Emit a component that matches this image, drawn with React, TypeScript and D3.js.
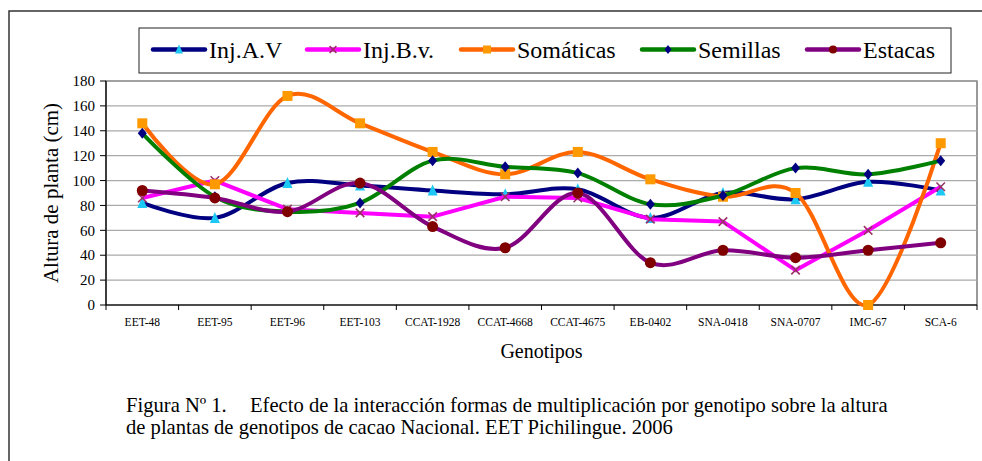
import React from "react";
import * as d3 from "d3";

const categories = ["EET-48", "EET-95", "EET-96", "EET-103", "CCAT-1928", "CCAT-4668", "CCAT-4675", "EB-0402", "SNA-0418", "SNA-0707", "IMC-67", "SCA-6"];
const injAV = [82, 70, 98, 96, 92, 89, 93, 70, 90, 85, 99, 92];
const injBv = [86, 100, 77, 74, 71, 87, 86, 69, 67, 28, 60, 95];
const somaticas = [146, 97, 168, 146, 123, 105, 123, 101, 87, 90, 0, 130];
const semillas = [138, 87, 75, 82, 116, 111, 106, 81, 88, 110, 105, 116];
const estacas = [92, 86, 75, 98, 63, 46, 90, 34, 44, 38, 44, 50];
const yTicks = [0, 20, 40, 60, 80, 100, 120, 140, 160, 180];
const seriesNames = ["Inj.A.V", "Inj.B.v.", "Somáticas", "Semillas", "Estacas"];

type Marker = "triangle" | "x" | "square" | "diamond" | "circle";
const seriesDefs: { name: string; values: number[]; line: string; marker: Marker; mColor: string; smooth: boolean }[] = [
  { name: seriesNames[0], values: injAV, line: "#000080", marker: "triangle", mColor: "#1ec8f5", smooth: true },
  { name: seriesNames[1], values: injBv, line: "#ff00ff", marker: "x", mColor: "#993366", smooth: false },
  { name: seriesNames[2], values: somaticas, line: "#ff6600", marker: "square", mColor: "#ff9900", smooth: true },
  { name: seriesNames[3], values: semillas, line: "#008000", marker: "diamond", mColor: "#000080", smooth: true },
  { name: seriesNames[4], values: estacas, line: "#800080", marker: "circle", mColor: "#800000", smooth: true },
];

const FONT = "'Liberation Serif', 'Times New Roman', 'DejaVu Serif', serif";

function MarkerShape({ type, color, x, y, s }: { type: Marker; color: string; x: number; y: number; s: number }) {
  const h = s / 2;
  if (type === "triangle") {
    return <polygon points={`${x},${y - h - 1} ${x + h},${y + h} ${x - h},${y + h}`} fill={color} />;
  }
  if (type === "x") {
    const k = h * 0.85;
    return (
      <g stroke={color} strokeWidth={1.6}>
        <line x1={x - k} y1={y - k} x2={x + k} y2={y + k} />
        <line x1={x - k} y1={y + k} x2={x + k} y2={y - k} />
      </g>
    );
  }
  if (type === "square") {
    return <rect x={x - h} y={y - h} width={s} height={s} fill={color} />;
  }
  if (type === "diamond") {
    return <polygon points={`${x},${y - h - 0.5} ${x + h - 0.5},${y} ${x},${y + h + 0.5} ${x - h + 0.5},${y}`} fill={color} />;
  }
  return <circle cx={x} cy={y} r={h} fill={color} />;
}

export default function App() {
  const W = 982, H = 461;
  const left = 106, right = 977, top = 81, bottom = 305;
  const x = d3.scaleBand<string>().domain(categories).range([left, right]).padding(0);
  const y = d3.scaleLinear().domain([0, 180]).range([bottom, top]);
  const cx = (c: string) => (x(c) as number) + x.bandwidth() / 2;
  const makeLine = (smooth: boolean) =>
    d3
      .line<number>()
      .x((_, i) => cx(categories[i]))
      .y((v) => y(v))
      .curve(smooth ? d3.curveCatmullRom.alpha(0) : d3.curveLinear);

  const legendX = [153, 307, 461, 642, 807];
  const legendY = 49.5;
  const ts = { fontFamily: FONT };

  return (
    <svg width={W} height={H} style={{ position: "absolute", left: 0, top: 0, background: "#fff", fontFamily: FONT }}>
      <rect x={9} y={11} width={1100} height={600} fill="none" stroke="#333" strokeWidth={1.5} />
      {/* legend */}
      <rect x={139} y={28} width={812} height={45} fill="#fff" stroke="#222" strokeWidth={1} />
      {seriesDefs.map((s, i) => (
        <g key={s.name}>
          <line x1={legendX[i]} x2={legendX[i] + 52} y1={legendY} y2={legendY} stroke={s.line} strokeWidth={4.5} strokeLinecap="round" />
          <MarkerShape type={s.marker} color={s.mColor} x={legendX[i] + 26} y={legendY} s={8} />
          <text x={legendX[i] + 56} y={legendY + 8} fontSize={24} fill="#000" style={ts}>{s.name}</text>
        </g>
      ))}
      {/* plot area */}
      <rect x={left} y={top} width={right - left} height={bottom - top} fill="#fff" stroke="#555" strokeWidth={1.2} />
      {yTicks.filter((t) => t > 0).map((t) => (
        <line key={t} x1={left} x2={right} y1={y(t)} y2={y(t)} stroke="#aaa" strokeWidth={1.2} />
      ))}
      <line x1={left} x2={left} y1={top} y2={bottom} stroke="#000" strokeWidth={1.2} />
      <line x1={left} x2={right} y1={bottom} y2={bottom} stroke="#000" strokeWidth={1.2} />
      {yTicks.map((t) => (
        <g key={t}>
          <line x1={left - 6} x2={left} y1={y(t)} y2={y(t)} stroke="#000" />
          <text x={left - 11} y={y(t)} dy="0.35em" textAnchor="end" fontSize={15} style={ts}>{t}</text>
        </g>
      ))}
      {categories.map((c) => (
        <g key={c}>
          <line x1={x(c) as number} x2={x(c) as number} y1={bottom} y2={bottom + 5} stroke="#000" />
          <text x={cx(c)} y={bottom + 17} dy="0.35em" textAnchor="middle" fontSize={11.5} style={ts}>{c}</text>
        </g>
      ))}
      <line x1={right} x2={right} y1={bottom} y2={bottom + 5} stroke="#000" />
      {/* series */}
      {seriesDefs.map((s) => (
        <g key={s.name}>
          <path d={makeLine(s.smooth)(s.values) || ""} fill="none" stroke={s.line} strokeWidth={4} strokeLinejoin="round" />
          {s.values.map((v, i) => (
            <MarkerShape key={i} type={s.marker} color={s.mColor} x={cx(categories[i])} y={y(v)} s={s.marker === "circle" ? 11 : 10} />
          ))}
        </g>
      ))}
      {/* axis titles */}
      <text transform={`translate(58,${(top + bottom) / 2}) rotate(-90)`} textAnchor="middle" fontSize={21} style={ts}>Altura de planta (cm)</text>
      <text x={(left + right) / 2} y={358} textAnchor="middle" fontSize={20} style={ts}>Genotipos</text>
      {/* caption */}
      <text x={126} y={412} fontSize={20.6} style={ts}>Figura Nº 1.</text>
      <text x={250} y={412} fontSize={20.6} style={ts}>Efecto de la interacción formas de multiplicación por genotipo sobre la altura</text>
      <text x={126} y={434} fontSize={20.6} style={ts}>de plantas de genotipos de cacao Nacional. EET Pichilingue. 2006</text>
    </svg>
  );
}
